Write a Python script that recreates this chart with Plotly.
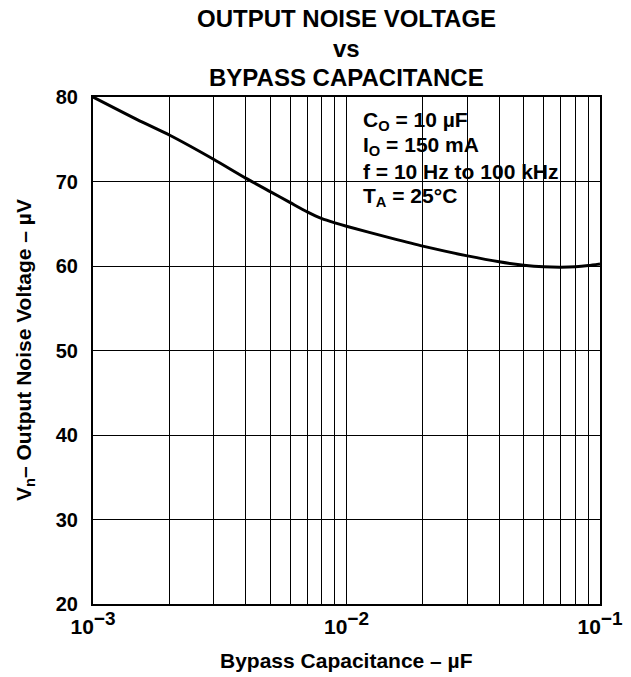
import plotly.graph_objects as go

# Data
cap_uF = [0.001, 0.0015, 0.002, 0.003, 0.004, 0.005, 0.006, 0.007, 0.008, 0.009,
          0.01, 0.015, 0.02, 0.03, 0.04, 0.05, 0.06, 0.07, 0.08, 0.09, 0.1]
noise_uV = [80.0, 77.3, 75.5, 72.6, 70.4, 68.8, 67.5, 66.4, 65.6, 65.1,
            64.7, 63.3, 62.35, 61.2, 60.5, 60.1, 59.9, 59.85, 59.9, 60.05, 60.25]

y_ticks = [20, 30, 40, 50, 60, 70, 80]
x_tick_vals = [0.001, 0.01, 0.1]
x_tick_exps = ["\u22123", "\u22122", "\u22121"]
minor_grid = [m * 10 ** e for e in (-3, -2) for m in range(2, 10)]

cond_lines = ["C<sub>O</sub> = 10 \u00b5F", "I<sub>O</sub> = 150 mA",
              "f = 10 Hz to 100 kHz", "T<sub>A</sub> = 25\u00b0C"]
title_lines = ["OUTPUT NOISE VOLTAGE", "vs", "BYPASS CAPACITANCE"]
x_title = "Bypass Capacitance \u2013 \u00b5F"
y_title = "V<sub>n</sub>\u2013 Output Noise Voltage \u2013 \u00b5V"

FONT = "Liberation Sans"

x_tick_text = ["10<sup><span style='font-size:19px'>%s</span></sup>" % e for e in x_tick_exps]

fig = go.Figure()
fig.add_trace(go.Scatter(x=cap_uF, y=noise_uV, mode="lines",
                         line=dict(color="black", width=3, shape="spline", smoothing=0.6),
                         hoverinfo="skip", showlegend=False))

W, H = 631, 677
L, T = 93, 97
R = W - 600
B = H - 604

fig.update_layout(
    width=W, height=H,
    margin=dict(l=L, r=R, t=T, b=B),
    paper_bgcolor="white", plot_bgcolor="white",
    font=dict(family=FONT, color="black"),
    showlegend=False,
)

fig.update_xaxes(type="log", range=[-3, -1],
                 tickvals=x_tick_vals, ticktext=x_tick_text,
                 tickfont=dict(size=21, family=FONT, weight="bold"),
                 ticklabelstandoff=3,
                 showgrid=True, gridcolor="black", gridwidth=1,
                 minor=dict(tickvals=minor_grid, showgrid=True, gridcolor="black", gridwidth=1),
                 showline=True, linecolor="black", linewidth=2, mirror=True,
                 ticks="", zeroline=False, automargin=False)
fig.update_yaxes(range=[20, 80], tickvals=y_ticks,
                 tickfont=dict(size=20, family=FONT, weight="bold"),
                 ticklabelstandoff=9,
                 showgrid=True, gridcolor="black", gridwidth=1,
                 showline=True, linecolor="black", linewidth=2, mirror=True,
                 ticks="", zeroline=False, automargin=False)

# white box behind conditions text (covers gridlines)
fig.add_shape(type="rect", xref="x", yref="y", layer="between",
              x0=-1.994, x1=-1.06, y0=64.85, y1=79.7,
              fillcolor="white", line=dict(width=0))

pw = W - L - R
ph = H - T - B
def px_to_paper(x, y):
    return (x - L) / pw, 1 - (y - T) / ph

for i, t in enumerate(cond_lines):
    xp, yp = px_to_paper(361, 120.5 + i * 25.5)
    fig.add_annotation(x=xp, y=yp, xref="paper", yref="paper", text=t,
                       showarrow=False, xanchor="left", yanchor="middle",
                       font=dict(size=21, family=FONT, weight="bold"))

for t, ypx in zip(title_lines, [18, 49, 77]):
    xp, yp = px_to_paper(346, ypx)
    fig.add_annotation(x=xp, y=yp, xref="paper", yref="paper", text=t,
                       showarrow=False, xanchor="center", yanchor="middle",
                       font=dict(size=24, family=FONT, weight="bold"))

xp, yp = px_to_paper(346.5, 660)
fig.add_annotation(x=xp, y=yp, xref="paper", yref="paper", text=x_title,
                   showarrow=False, xanchor="center", yanchor="middle",
                   font=dict(size=21, family=FONT, weight="bold"))
xp, yp = px_to_paper(25, 350)
fig.add_annotation(x=xp, y=yp, xref="paper", yref="paper", text=y_title,
                   showarrow=False, xanchor="center", yanchor="middle", textangle=-90,
                   font=dict(size=21, family=FONT, weight="bold"))

# remove the default 8px page margin so the figure fills the window exactly
fig.write_html("out.html", config={"displayModeBar": False, "staticPlot": True},
               post_script="document.body.style.margin='0';")
